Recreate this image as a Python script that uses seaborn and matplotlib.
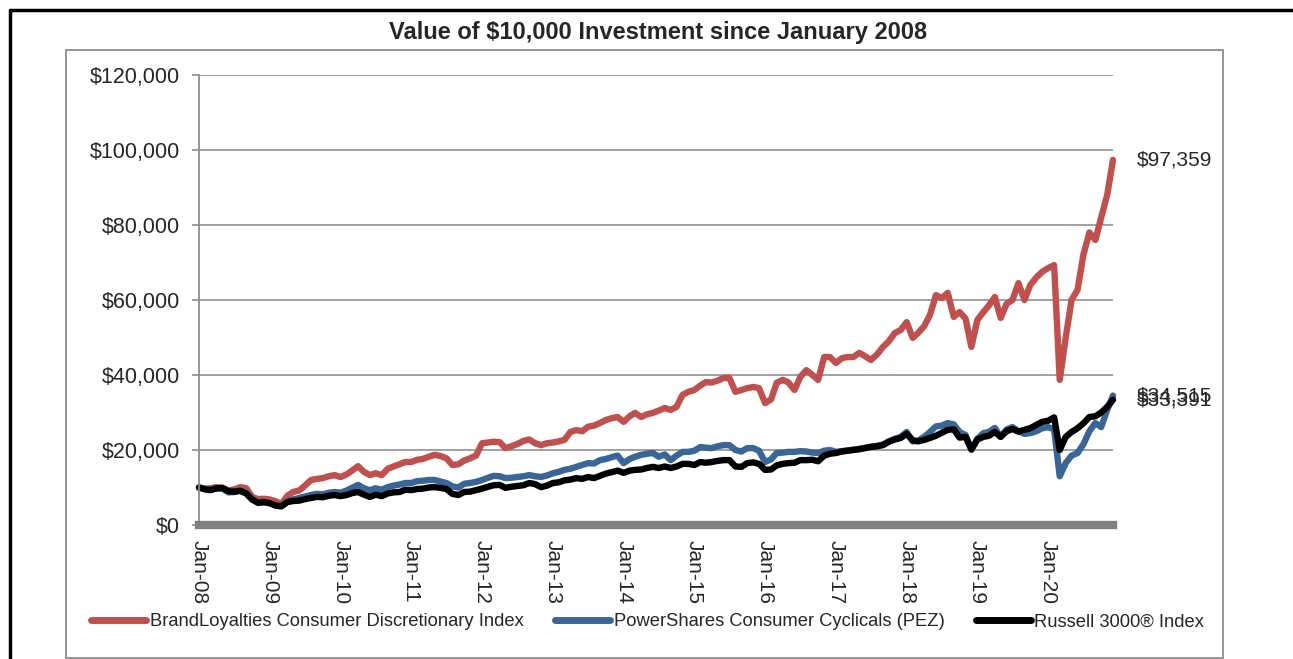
import matplotlib.pyplot as plt
import matplotlib.ticker as mticker
import matplotlib.dates as mdates
from matplotlib.lines import Line2D
from matplotlib.patches import Rectangle
import pandas as pd
import seaborn as sns

# monthly values, Jan-2008 .. Dec-2020
months = pd.date_range("2008-01-01", "2020-12-01", freq="MS")

brand = [
    10000, 9700, 9800, 10100, 9900, 9200, 9500, 10100, 9800, 7500, 6900, 7000,
    6800, 6300, 5600, 7800, 8800, 9200, 10500, 12000, 12300, 12500, 13000, 13300,
    12800, 13500, 14500, 15700, 14200, 13300, 13800, 13300, 15000, 15600, 16200, 16800,
    16800, 17400, 17600, 18200, 18700, 18400, 17800, 16000, 16200, 17200, 17800, 18500,
    21800, 22000, 22200, 22100, 20500, 21000, 21600, 22400, 22800, 21800, 21300, 21800,
    22000, 22300, 22700, 24800, 25300, 25000, 26200, 26500, 27200, 28000, 28500, 28800,
    27500, 29000, 29900, 28800, 29500, 29900, 30500, 31200, 30700, 31500, 34700, 35500,
    36000, 37200, 38100, 38000, 38500, 39200, 39200, 35500, 36000, 36500, 36800, 36500,
    32500, 33500, 37900, 38700, 38000, 36000, 39500, 41300, 40000, 38700, 44800, 44800,
    43200, 44500, 44800, 44800, 45900, 45000, 44000, 45500, 47500, 49000, 51200, 52000,
    54100, 49900, 51200, 53000, 56000, 61300, 60500, 61900, 55500, 56800, 55000, 47500,
    54700, 56800, 58500, 60800, 55200, 59000, 60000, 64500, 60000, 64000, 66000, 67500,
    68500, 69300, 38700, 50000, 60000, 62700, 72000, 78000, 76000, 82000, 88000, 97359,
]

pez = [
    10000, 9600, 9500, 9700, 9700, 8700, 8800, 9300, 8500, 6900, 6000, 6100,
    5800, 5100, 5000, 6300, 6800, 7200, 7600, 8000, 8300, 8200, 8600, 8800,
    8600, 9200, 9900, 10700, 9800, 9300, 9800, 9400, 10100, 10500, 10800, 11200,
    11200, 11700, 11800, 12000, 12000, 11600, 11200, 10300, 10000, 11000, 11200, 11500,
    12000, 12600, 13100, 13000, 12500, 12600, 12800, 13000, 13300, 13000, 12800, 13200,
    13800, 14200, 14700, 15000, 15500, 16000, 16500, 16400, 17300, 17600, 18100, 18500,
    16500, 17600, 18200, 18700, 19000, 19200, 18200, 18800, 17300, 18500, 19500, 19500,
    19800, 20800, 20600, 20500, 21000, 21300, 21300, 20000, 19600, 20500, 20500, 19800,
    16800, 17500, 19200, 19300, 19500, 19500, 19700, 19600, 19300, 19200, 19800, 20000,
    19500, 19700, 19900, 20100, 20300, 20600, 20900, 21100, 21500, 22300, 23000, 23500,
    24800, 22300, 22500, 23500, 24800, 26300, 26500, 27200, 26800, 24800, 24000, 20000,
    23000, 24500, 24800, 25900, 23500, 25500, 26100, 25000, 24300, 24500, 25000, 25800,
    26100, 25500, 13000, 16500, 18500, 19200, 21500, 25000, 27200, 26100, 30700, 34515,
]

russell = [
    10000, 9500, 9300, 9800, 9900, 9000, 8900, 9100, 8400, 6800, 5900, 6100,
    5800, 5200, 5000, 6100, 6400, 6500, 6900, 7200, 7500, 7400, 7800, 8000,
    7700, 8000, 8500, 8800, 8100, 7500, 8100, 7700, 8400, 8700, 8800, 9400,
    9300, 9600, 9700, 10000, 10100, 9900, 9600, 8300, 8000, 8800, 8900, 9300,
    9700, 10200, 10600, 10700, 9900, 10200, 10400, 10600, 11200, 10900, 10100, 10500,
    11200, 11400, 11900, 12100, 12500, 12300, 12800, 12500, 13100, 13700, 14100, 14500,
    13900, 14500, 14700, 14800, 15200, 15500, 15200, 15600, 15200, 15600, 16300, 16300,
    16000, 16800, 16600, 16800, 17100, 17300, 17300, 15600, 15500, 16500, 16700, 16300,
    14700, 14800, 15900, 16300, 16500, 16600, 17300, 17300, 17400, 17000, 18500, 19000,
    19200, 19600, 19800, 20000, 20200, 20500, 20800, 21000, 21300, 22200, 22800, 23200,
    24300, 22600, 22300, 22700, 23200, 23800, 24600, 25400, 25500, 23300, 23500, 20200,
    22800, 23500, 23800, 24800, 23500, 25000, 25600, 24900, 25400, 25800, 26700, 27500,
    27800, 28700, 20000, 23500, 24800, 25800, 27100, 28800, 29000, 30000, 31500, 33391,
]

names = [
    "BrandLoyalties Consumer Discretionary Index",
    "PowerShares Consumer Cyclicals (PEZ)",
    "Russell 3000® Index",
]
colors = ["#C0504D", "#3A6597", "#000000"]
end_labels = ["$97,359", "$34,515", "$33,391"]

df = pd.concat(
    [pd.DataFrame({"Date": months, "Value": v, "Series": n})
     for n, v in zip(names, [brand, pez, russell])],
    ignore_index=True,
)

sns.set_style("white")
plt.rcParams["font.family"] = ["Liberation Sans", "DejaVu Sans"]

fig = plt.figure(figsize=(12.93, 6.59), dpi=100)
ax = fig.add_axes([199 / 1293, 1 - 525 / 659, (1113 - 199) / 1293, (525 - 75) / 659])

sns.lineplot(data=df, x="Date", y="Value", hue="Series", hue_order=names,
             palette=dict(zip(names, colors)), linewidth=4.6, legend=False,
             ax=ax, clip_on=False)

ax.set_xlim(months[0], months[-1])
ax.set_ylim(0, 120000)
ax.yaxis.set_major_locator(mticker.MultipleLocator(20000))
ax.yaxis.set_major_formatter(mticker.FuncFormatter(lambda v, p: f"${v:,.0f}"))
ax.xaxis.set_major_locator(mdates.YearLocator())
ax.xaxis.set_major_formatter(mdates.DateFormatter("%b-%y"))
ax.set_xlabel("")
ax.set_ylabel("")

ax.grid(axis="y", color="#9a9a9a", linewidth=1.3)
ax.grid(axis="x", visible=False)
for s in ["top", "right"]:
    ax.spines[s].set_visible(False)
ax.spines["left"].set_color("#8c8c8c")
ax.spines["left"].set_linewidth(1.3)
ax.spines["bottom"].set_color("#808080")
ax.spines["bottom"].set_linewidth(6)

ax.tick_params(axis="y", left=True, length=5, width=1.2, color="#8c8c8c",
               pad=9, labelsize=15.5)
ax.tick_params(axis="x", bottom=False, pad=7, labelsize=15)
for lbl in ax.get_xticklabels():
    lbl.set_rotation(-90)
    lbl.set_ha("center")
    lbl.set_va("top")

# end-of-series value labels
for vals, txt in zip([brand, pez, russell], end_labels):
    ax.annotate(txt, (months[-1], vals[-1]), xytext=(17, 0),
                textcoords="offset points", ha="left", va="center",
                fontsize=15, annotation_clip=False)

fig.text(0.509, 1 - 32 / 659, "Value of $10,000 Investment since January 2008",
         ha="center", va="center", fontsize=17, fontweight="bold")

handles = [Line2D([0], [0], color=c, linewidth=5) for c in colors]
fig.legend(handles, names, loc="center", bbox_to_anchor=(0.501, 1 - 622 / 659),
           ncol=3, frameon=False, fontsize=13.2, handlelength=3.0,
           handletextpad=0.2, columnspacing=1.7)

# chart frame (gray) and outer black border
fig.patches.append(Rectangle((66 / 1293, 0.002), (1223 - 66) / 1293, (658 - 50) / 659,
                             transform=fig.transFigure, fill=False,
                             edgecolor="#8c8c8c", linewidth=1.3))
fig.add_artist(Line2D([10 / 1293, 10 / 1293], [0, 1 - 10 / 659],
                      transform=fig.transFigure, color="black", linewidth=2.5))
fig.add_artist(Line2D([10 / 1293, 1], [1 - 10 / 659, 1 - 10 / 659],
                      transform=fig.transFigure, color="black", linewidth=2.5))

fig.savefig("out.png", dpi=100)
